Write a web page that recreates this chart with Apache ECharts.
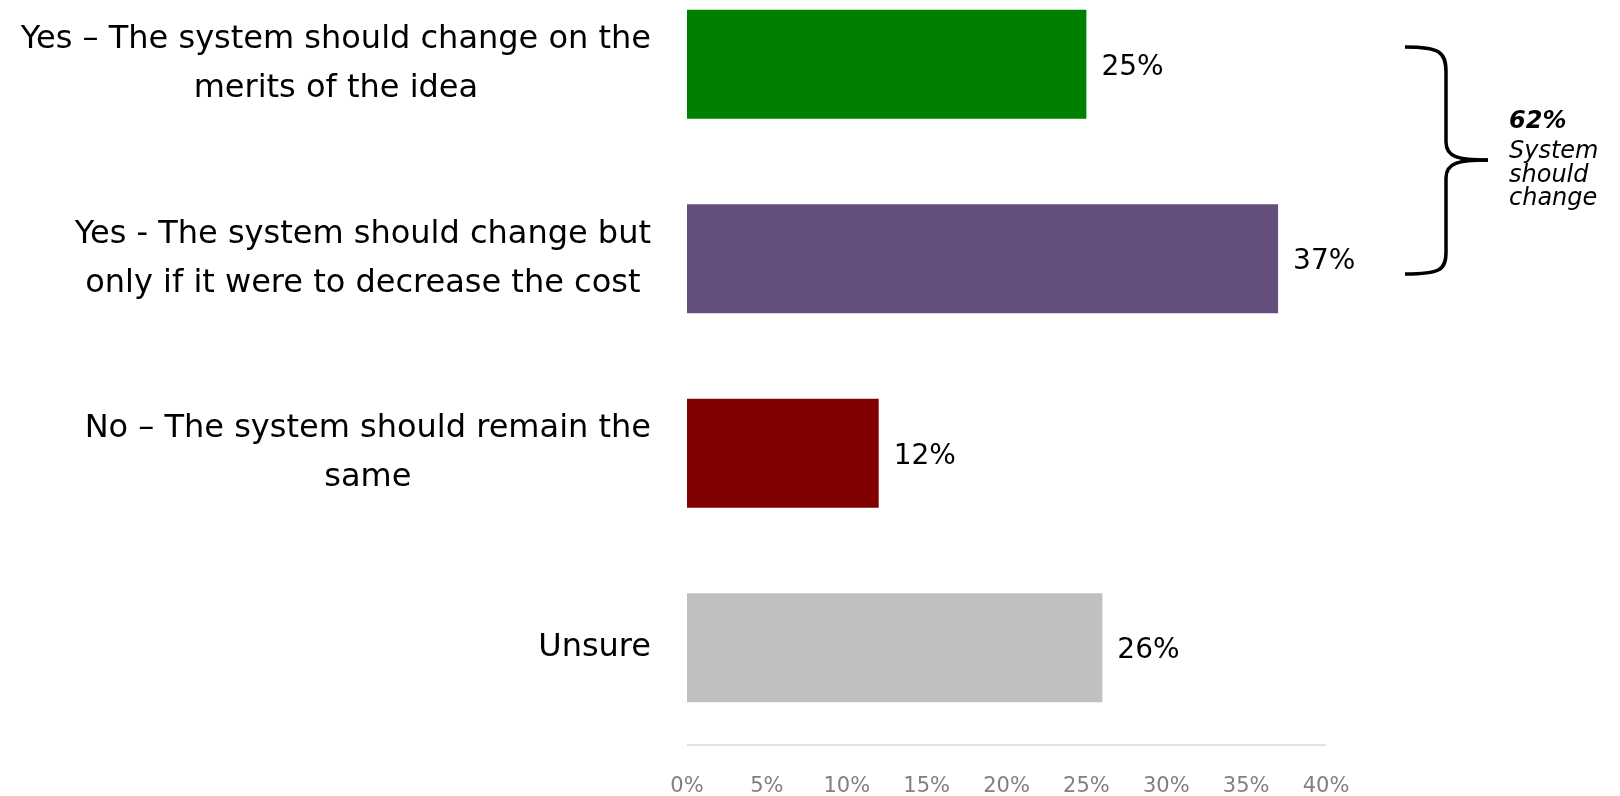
<!DOCTYPE html>
<html>
<head>
  <meta charset="utf-8" />
  <title>Should the system change</title>
  <script src="https://cdn.jsdelivr.net/npm/echarts@6/dist/echarts.min.js"></script>
  <style>
    html, body { margin: 0; padding: 0; background: #fff; }
    #chart { width: 1620px; height: 796px; }
  </style>
</head>
<body>
  <div id="chart"></div>
  <script>
    // answers, top to bottom
    const categories = [
      'Yes \u2013 The system should change on the\nmerits of the idea',
      'Yes - The system should change but\nonly if it were to decrease the cost',
      'No \u2013 The system should remain the\nsame',
      'Unsure'
    ];
    const values = [25, 37, 12, 26];
    const barColors = ['#008000', '#634e7d', '#800000', '#c0c0c0'];
    const tickMax = 40;
    const tickStep = 5;

    // bracket note over the first two answers
    const noteValue = '62%';
    const noteLines = ['System', 'should', 'change'];

    const FONT = "'DejaVu Sans', sans-serif";

    const chart = echarts.init(document.getElementById('chart'));

    const braceStyle = { fill: 'none', stroke: '#000', lineWidth: 3.5 };
    const brace = [
      { type: 'bezierCurve', shape: { x1: 1405, y1: 47, cpx1: 1440, cpy1: 47, cpx2: 1446, cpy2: 52, x2: 1446, y2: 72 }, style: braceStyle },
      { type: 'line', shape: { x1: 1446, y1: 72, x2: 1446, y2: 142 }, style: braceStyle },
      { type: 'bezierCurve', shape: { x1: 1446, y1: 142, cpx1: 1446, cpy1: 157, cpx2: 1458, cpy2: 160, x2: 1488, y2: 160 }, style: braceStyle },
      { type: 'bezierCurve', shape: { x1: 1488, y1: 160, cpx1: 1458, cpy1: 160, cpx2: 1446, cpy2: 163, x2: 1446, y2: 178 }, style: braceStyle },
      { type: 'line', shape: { x1: 1446, y1: 178, x2: 1446, y2: 252 }, style: braceStyle },
      { type: 'bezierCurve', shape: { x1: 1446, y1: 252, cpx1: 1446, cpy1: 270, cpx2: 1440, cpy2: 274, x2: 1405, y2: 274 }, style: braceStyle }
    ];

    const option = {
      animation: false,
      grid: { left: 687, right: 294, top: -33, bottom: 51, containLabel: false, outerBoundsMode: 'none' },
      xAxis: {
        type: 'value',
        min: 0,
        max: tickMax,
        interval: tickStep,
        axisLine: { show: false },
        axisTick: { show: false },
        splitLine: { show: false },
        axisLabel: {
          formatter: '{value}%',
          color: '#808080',
          fontFamily: FONT,
          fontSize: 21,
          margin: 31
        }
      },
      yAxis: {
        type: 'category',
        data: categories,
        inverse: true,
        axisLine: { show: false },
        axisTick: { show: false },
        axisLabel: {
          align: 'right',
          margin: 36,
          // each line centred inside the right-aligned block
          formatter: v => v.split('\n').map(s => '{c|' + s + '}').join('\n'),
          rich: {
            c: {
              align: 'center',
              color: '#000',
              fontFamily: FONT,
              fontSize: 32,
              lineHeight: 49
            }
          }
        }
      },
      series: [{
        type: 'bar',
        data: values.map((v, i) => ({ value: v, itemStyle: { color: barColors[i] } })),
        barCategoryGap: '44%',
        label: {
          show: true,
          position: 'right',
          distance: 15,
          offset: [0, 3],
          formatter: '{c}%',
          color: '#000',
          fontFamily: FONT,
          fontSize: 28
        }
      }],
      graphic: brace.concat([
        {
          type: 'text',
          left: 1509,
          top: 110,
          style: {
            text: noteValue,
            fill: '#000',
            font: "italic bold 24px " + FONT
          }
        },
        {
          type: 'text',
          left: 1509,
          top: 140,
          style: {
            text: noteLines.join('\n'),
            fill: '#000',
            lineHeight: 23.5,
            font: "italic 24px " + FONT
          }
        }
      ])
    };

    chart.setOption(option);

    // light axis line under the bars
    const x0 = chart.convertToPixel({ xAxisIndex: 0 }, 0);
    const x1 = chart.convertToPixel({ xAxisIndex: 0 }, tickMax);
    chart.setOption({
      graphic: option.graphic.concat([{
        type: 'line',
        shape: { x1: x0, y1: 745, x2: x1, y2: 745 },
        style: { stroke: '#d9d9d9', lineWidth: 1.5 }
      }])
    });
  </script>
</body>
</html>
